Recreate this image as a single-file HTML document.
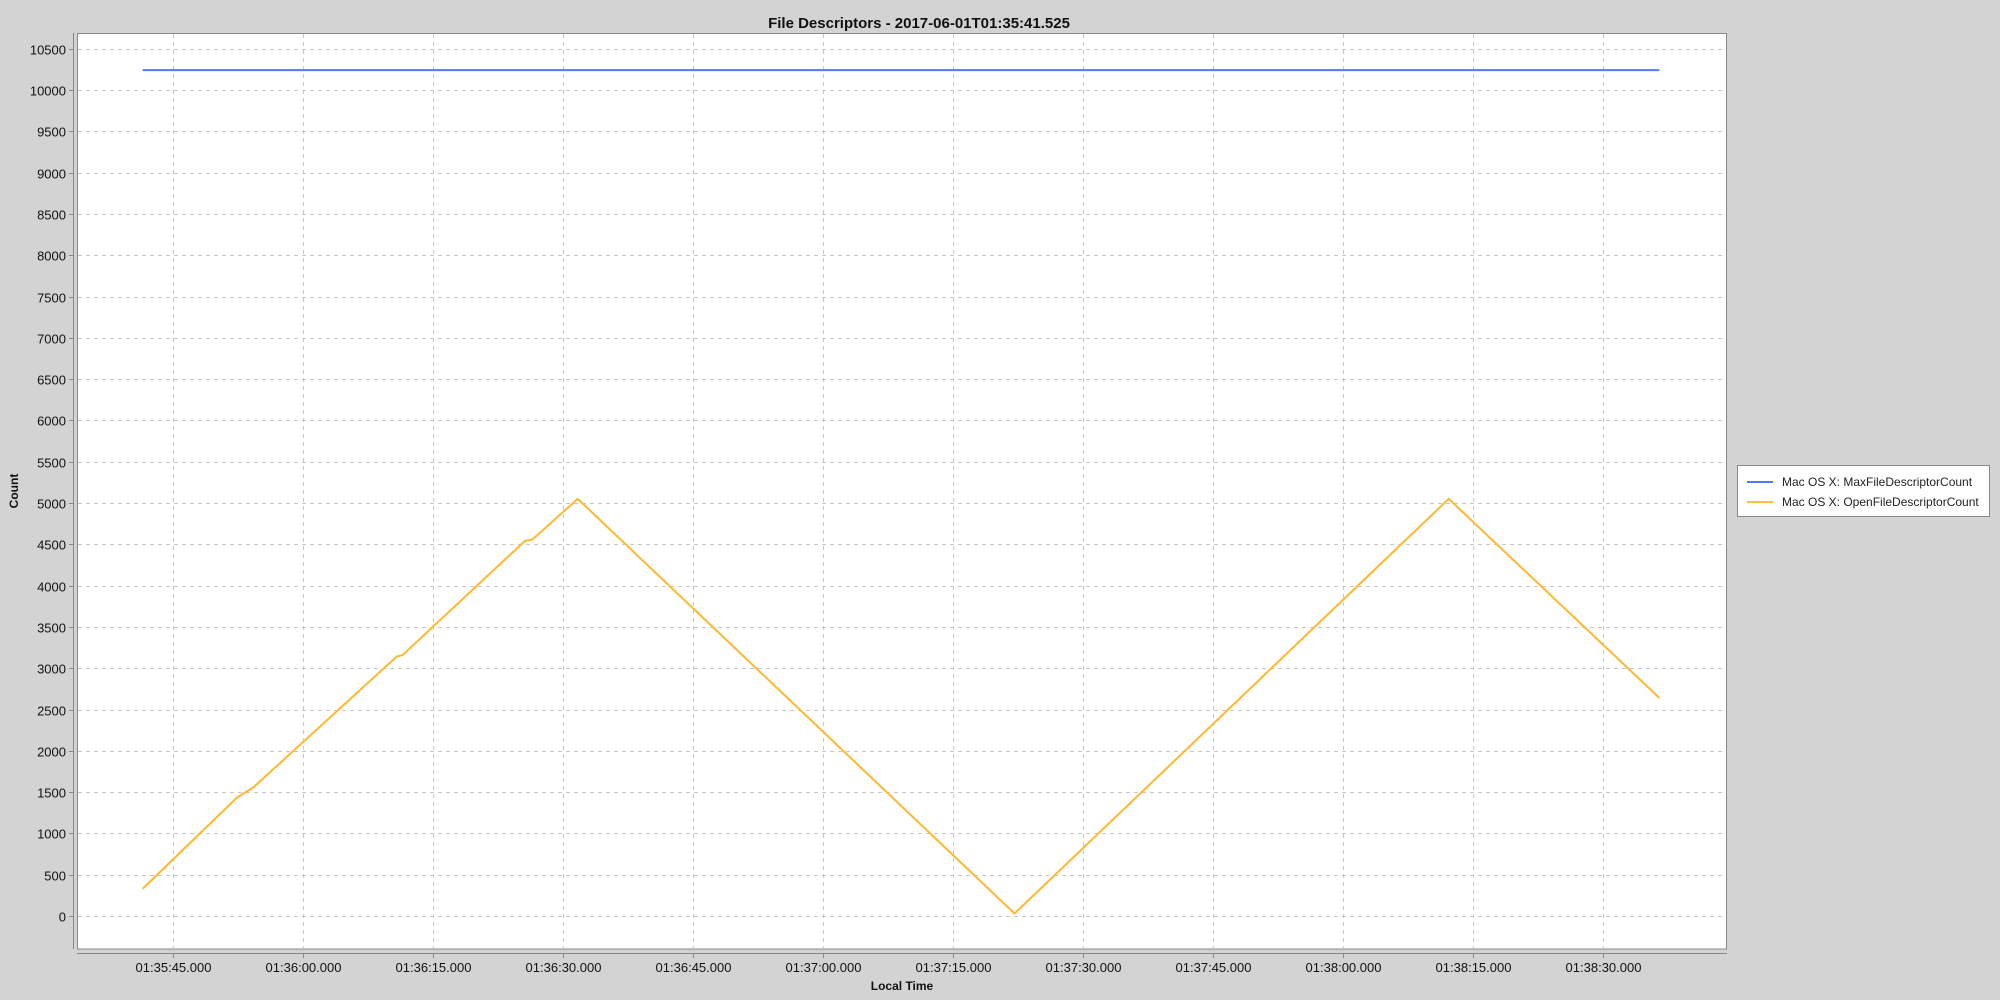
<!DOCTYPE html>
<html><head><meta charset="utf-8"><style>
html,body{margin:0;padding:0;background:#d3d3d3;}
svg{display:block;font-family:"Liberation Sans",sans-serif;}
</style></head><body>
<svg id="chart" width="2000" height="1000">
<rect x="0" y="0" width="2000" height="1000" fill="#d3d3d3"/>
<text x="919" y="28" text-anchor="middle" font-size="15" font-weight="bold" fill="#111">File Descriptors - 2017-06-01T01:35:41.525</text>
<rect x="77.5" y="33.5" width="1649" height="915.5" fill="#fff" stroke="#888"/>
<line x1="73.5" y1="33" x2="73.5" y2="949" stroke="#888"/>
<line x1="77" y1="953.5" x2="1727" y2="953.5" stroke="#888"/>
<g id="grid"></g><g id="ticks"></g><g id="series"></g>
<text x="0" y="0" transform="translate(18,491) rotate(-90)" text-anchor="middle" font-size="12" font-weight="bold" fill="#111">Count</text>
<text x="902" y="990" text-anchor="middle" font-size="12" font-weight="bold" fill="#111">Local Time</text>
<g>
<rect x="1737.5" y="465.5" width="252" height="51" fill="#fff" stroke="#888"/>
<line x1="1747" y1="482" x2="1773" y2="482" stroke="#5577ff" stroke-width="2"/>
<text x="1782" y="486" font-size="12" fill="#222">Mac OS X: MaxFileDescriptorCount</text>
<line x1="1747" y1="502" x2="1773" y2="502" stroke="#ffc040" stroke-width="2"/>
<text x="1782" y="506" font-size="12" fill="#222">Mac OS X: OpenFileDescriptorCount</text>
</g>
</svg>
<script>
// times in seconds after 01:35:00
const yTicks=[0,500,1000,1500,2000,2500,3000,3500,4000,4500,5000,5500,6000,6500,7000,7500,8000,8500,9000,9500,10000,10500];
const xTickSecs=[45,60,75,90,105,120,135,150,165,180,195,210];
const xTickLabels=["01:35:45.000","01:36:00.000","01:36:15.000","01:36:30.000","01:36:45.000","01:37:00.000","01:37:15.000","01:37:30.000","01:37:45.000","01:38:00.000","01:38:15.000","01:38:30.000"];
const maxTimes=[41.5,216.5];
const maxValues=[10240,10240];
const openTimes=[41.5,52.4,54.3,70.8,71.5,85.6,86.5,91.7,142.1,192.2,216.5];
const openValues=[330,1435,1560,3140,3160,4540,4560,5050,30,5050,2640];
const NS="http://www.w3.org/2000/svg";
const X=s=>173+(s-45)*130/15;
const Y=v=>916-v*0.0826;
const grid=document.getElementById('grid'),ticks=document.getElementById('ticks'),ser=document.getElementById('series');
function mk(tag,attrs,parent){const e=document.createElementNS(NS,tag);for(const k in attrs)e.setAttribute(k,attrs[k]);parent.appendChild(e);return e;}
yTicks.forEach(v=>{
 const y=Math.round(Y(v))+0.5;
 const g=mk('line',{x1:78,x2:1726,y1:y,y2:y,stroke:'#c8c8c8','stroke-dasharray':'4,4'},grid);
 
 
 mk('line',{x1:69,x2:73,y1:y,y2:y,stroke:'#888'},ticks);
 const t=mk('text',{x:66,y:y+5,'text-anchor':'end','font-size':13,fill:'#111'},ticks);
 t.textContent=v;
 
 
});
xTickSecs.forEach((s,i)=>{
 const x=Math.round(X(s))+0.5;
 const g=mk('line',{x1:x,x2:x,y1:34,y2:948,stroke:'#c8c8c8','stroke-dasharray':'4,4'},grid);
 
 
 mk('line',{x1:x,x2:x,y1:954,y2:958,stroke:'#888'},ticks);
 const t=mk('text',{x:x,y:972,'text-anchor':'middle','font-size':13,fill:'#111'},ticks);
 t.textContent=xTickLabels[i];
 
 
});
function line(ts,vs,color,name){
 const p=mk('polyline',{points:ts.map((t,i)=>X(t)+','+Y(vs[i])).join(' '),fill:'none',stroke:color,'stroke-width':2},ser);
 
 
}
line(maxTimes,maxValues,'#5577ff','max-file-descriptor-line');
line(openTimes,openValues,'#ffb830','open-file-descriptor-line');
</script>
</body></html>
